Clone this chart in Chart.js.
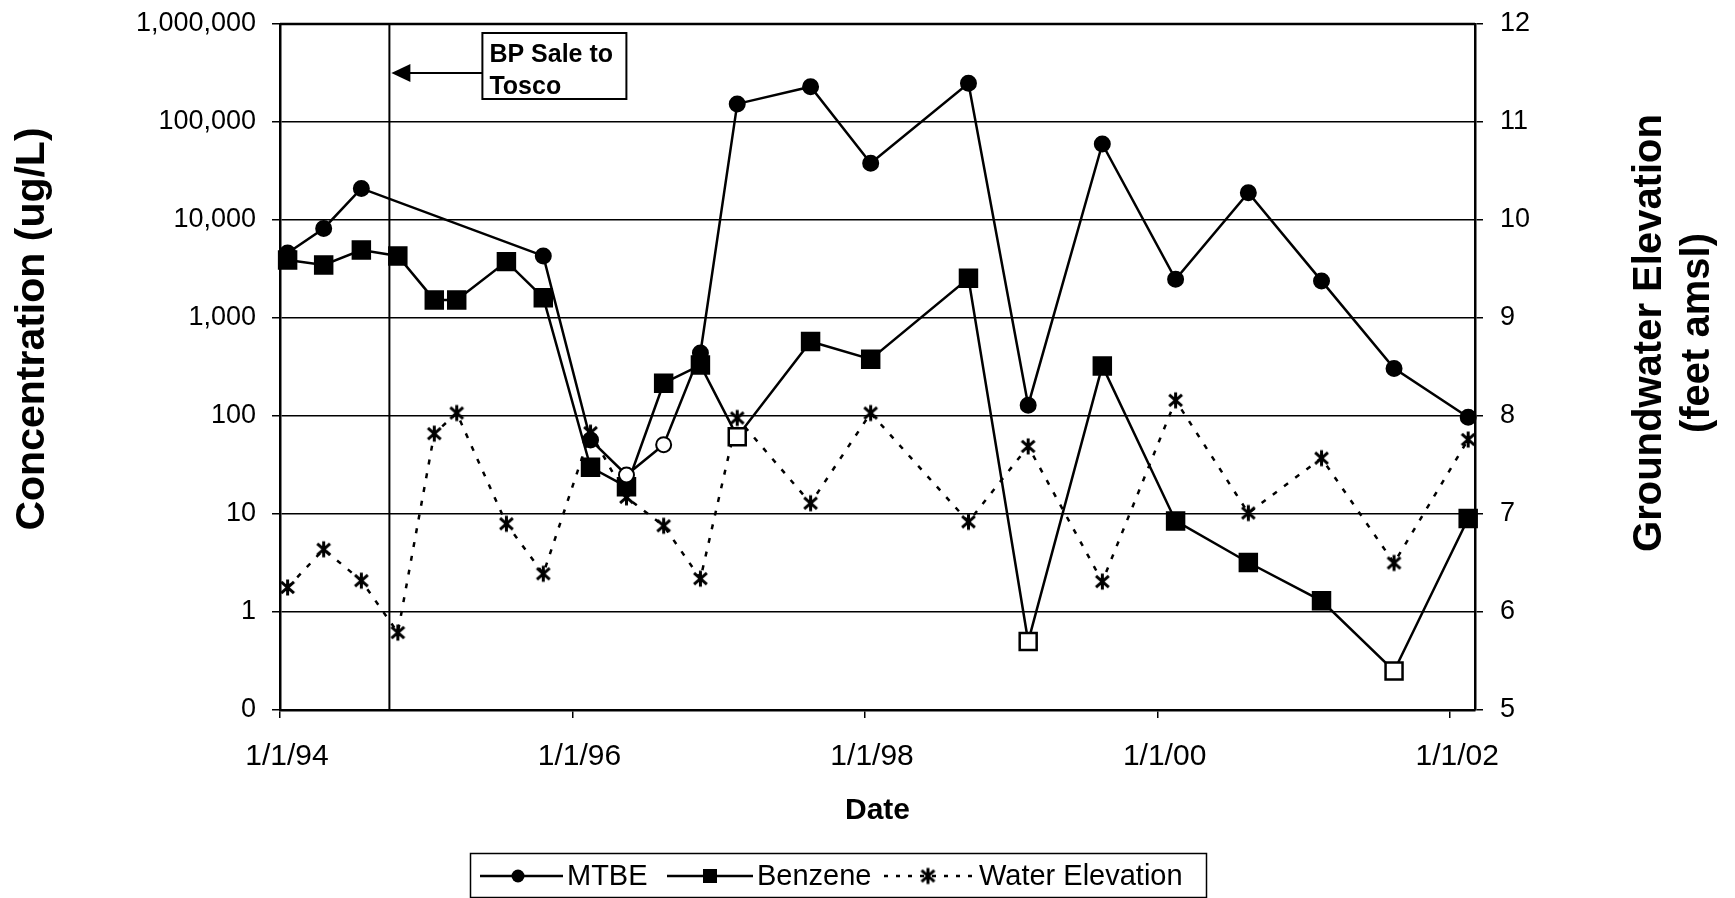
<!DOCTYPE html>
<html><head><meta charset="utf-8">
<script src="https://cdn.jsdelivr.net/npm/chart.js@4.4.1/dist/chart.umd.min.js"></script>
<style>html,body{margin:0;padding:0;background:#fff;}#wrap{width:1735px;height:898px;}</style>
</head><body><div id="wrap"><canvas id="c" width="1735" height="898"></canvas></div>
<script>
// ---- data ----
const sampleDates = ["1994-01-20","1994-04-20","1994-07-23","1994-10-22","1995-01-21","1995-03-18","1995-07-20","1995-10-20","1996-02-15","1996-05-15","1996-08-16","1996-11-16","1997-02-16","1997-08-18","1998-01-15","1998-09-16","1999-02-12","1999-08-16","2000-02-15","2000-08-15","2001-02-14","2001-08-14","2002-02-15"];
const mtbe      = [4600, 8200, 21000, null, null, null, null, 4300, 57, 25, 51, 440, 153000, 229000, 38000, 248000, 129, 59700, 2480, 19000, 2390, 306, 97];
const mtbeOpen  = [0,0,0,0,0,0,0,0,0,1,1,0,0,0,0,0,0,0,0,0,0,0,0];
const benzene   = [3900, 3480, 4940, 4290, 1530, 1530, 3760, 1610, 30, 19, 216, 331, 61.5, 575, 380, 2540, 0.5, 324, 8.5, 3.2, 1.3, 0.25, 9.0];
const benzeneOpen=[0,0,0,0,0,0,0,0,0,0,0,0,1,0,0,0,1,0,0,0,0,1,0];
const waterElev = [6.25, 6.64, 6.32, 5.79, 7.82, 8.03, 6.90, 6.39, 7.83, 7.17, 6.88, 6.34, 7.98, 7.11, 8.03, 6.92, 7.69, 6.31, 8.16, 7.01, 7.57, 6.50, 7.76];
const xRange = ["1994-01-01", "2002-03-04"];
const xTickDates = ["1994-01-01","1996-01-01","1998-01-01","2000-01-01","2002-01-01"];
const xTickLabels = ["1/1/94","1/1/96","1/1/98","1/1/00","1/1/02"];
const yTickValues = [0.1, 1, 10, 100, 1000, 10000, 100000, 1000000];
const yTickLabels = ["0","1","10","100","1,000","10,000","100,000","1,000,000"];
const y2TickValues = [5,6,7,8,9,10,11,12];
const y2TickLabels = ["5","6","7","8","9","10","11","12"];
const saleDate = "1994-10-01";
const saleText = ["BP Sale to","Tosco"];
const seriesNames = ["MTBE","Benzene","Water Elevation"];

// ---- helpers ----
function dyear(s){const [y,m,d]=s.split('-').map(Number);const t=Date.UTC(y,m-1,d),a=Date.UTC(y,0,1),b=Date.UTC(y+1,0,1);return y+(t-a)/(b-a);}
const FONT = "'Liberation Sans', Arial, sans-serif";
const xs = sampleDates.map(dyear);
function makeStar(size, lw){
  const c=document.createElement('canvas');c.width=c.height=size;
  const g=c.getContext('2d');g.strokeStyle='#000';g.lineWidth=lw;
  const m=size/2, r=size/2-1.5;
  g.beginPath();
  g.moveTo(m,m-r);g.lineTo(m,m+r);
  g.moveTo(m-r*0.8,m-r*0.7);g.lineTo(m+r*0.8,m+r*0.7);
  g.moveTo(m+r*0.8,m-r*0.7);g.lineTo(m-r*0.8,m+r*0.7);
  g.stroke();return c;
}
const star = makeStar(19, 3);

const overlay = {
  id:'overlay',
  beforeDatasetsDraw(chart){
    const {ctx, chartArea:a, scales} = chart;
    const bx = scales.x.getPixelForValue(dyear(saleDate));
    ctx.save();ctx.strokeStyle='#000';ctx.lineWidth=2;
    ctx.beginPath();ctx.moveTo(bx,a.top);ctx.lineTo(bx,a.bottom);ctx.stroke();
    ctx.restore();
  },
  afterDraw(chart){
    const {ctx, chartArea:a, scales} = chart;
    ctx.save();
    ctx.strokeStyle='#000';ctx.fillStyle='#000';
    // top frame line
    ctx.lineWidth=2.5;ctx.beginPath();ctx.moveTo(a.left,a.top);ctx.lineTo(a.right,a.top);ctx.stroke();
    // annotation
    const bx = scales.x.getPixelForValue(dyear(saleDate));
    const boxL = bx+93, boxT = a.top+9, boxW = 144, boxH = 66;
    ctx.fillStyle='#fff';ctx.fillRect(boxL,boxT,boxW,boxH);
    ctx.lineWidth=2;ctx.strokeRect(boxL,boxT,boxW,boxH);
    ctx.fillStyle='#000';ctx.font="bold 25px "+FONT;ctx.textAlign='left';ctx.textBaseline='alphabetic';
    ctx.fillText(saleText[0], boxL+7, boxT+29);
    ctx.fillText(saleText[1], boxL+7, boxT+61);
    const ay = boxT+40;
    ctx.lineWidth=2;ctx.beginPath();ctx.moveTo(boxL,ay);ctx.lineTo(bx+18,ay);ctx.stroke();
    ctx.beginPath();ctx.moveTo(bx+2,ay);ctx.lineTo(bx+21,ay-9);ctx.lineTo(bx+21,ay+9);ctx.closePath();ctx.fill();
    // axis titles
    ctx.textAlign='center';ctx.textBaseline='middle';
    ctx.font="bold 41px "+FONT;
    ctx.save();ctx.translate(32.5,329);ctx.rotate(-Math.PI/2);ctx.fillText("Concentration (ug/L)",0,0);ctx.restore();
    ctx.font="bold 40px "+FONT;
    ctx.save();ctx.translate(1674,333);ctx.rotate(-Math.PI/2);
    ctx.fillText("Groundwater Elevation",0,-24);ctx.fillText("(feet amsl)",0,24);ctx.restore();
    ctx.font="bold 30px "+FONT;
    ctx.fillText("Date",(a.left+a.right)/2,811);
    // legend
    const lx=470, ly=853, lw=736, lh=44, cy=ly+lh/2+1;
    ctx.lineWidth=1.5;ctx.strokeRect(lx+0.5,ly+0.5,lw,lh);
    ctx.font="29px "+FONT;ctx.textAlign='left';ctx.textBaseline='middle';
    // MTBE
    ctx.lineWidth=2.5;ctx.setLineDash([]);
    ctx.beginPath();ctx.moveTo(480,cy);ctx.lineTo(563,cy);ctx.stroke();
    ctx.beginPath();ctx.arc(518,cy,6.5,0,Math.PI*2);ctx.fill();
    ctx.fillText(seriesNames[0],567,cy+1);
    // Benzene
    ctx.beginPath();ctx.moveTo(667,cy);ctx.lineTo(753,cy);ctx.stroke();
    ctx.fillRect(710-7,cy-7,14,14);
    ctx.fillText(seriesNames[1],757,cy+1);
    // Water
    ctx.setLineDash([4,8]);ctx.beginPath();ctx.moveTo(884,cy);ctx.lineTo(975,cy);ctx.stroke();ctx.setLineDash([]);
    ctx.drawImage(star,928-star.width/2,cy-star.height/2);
    ctx.fillText(seriesNames[2],979,cy+1);
    ctx.restore();
  }
};

const ptsOf = arr => xs.map((x,i)=>({x, y: arr[i]}));
new Chart(document.getElementById('c'), {
  type:'line',
  data:{datasets:[
    {label:seriesNames[0], data:ptsOf(mtbe), yAxisID:'y', borderColor:'#000', borderWidth:2.5, spanGaps:true, clip:false,
     pointStyle:'circle', pointRadius:7.5, pointBorderWidth:2, pointBorderColor:'#000',
     pointBackgroundColor: mtbeOpen.map(o=>o?'#fff':'#000'), tension:0},
    {label:seriesNames[1], data:ptsOf(benzene), yAxisID:'y', borderColor:'#000', borderWidth:2.5, clip:false,
     pointStyle:'rect', pointRadius:12, pointBorderWidth:2.5, pointBorderColor:'#000',
     pointBackgroundColor: benzeneOpen.map(o=>o?'#fff':'#000'), tension:0},
    {label:seriesNames[2], data:ptsOf(waterElev), yAxisID:'y2', borderColor:'#000', borderWidth:2.5, borderDash:[5,9], clip:false,
     pointStyle:star, pointRadius:9, tension:0}
  ]},
  options:{
    responsive:false, animation:false, devicePixelRatio:1,
    layout:{padding:{top:24,left:0,right:0,bottom:0}},
    plugins:{legend:{display:false}, tooltip:{enabled:false}},
    scales:{
      x:{type:'linear', position:'bottom', min:dyear(xRange[0]), max:dyear(xRange[1]),
        afterBuildTicks:s=>{s.ticks=xTickDates.map(d=>({value:dyear(d)}));},
        ticks:{callback:(v,i)=>xTickLabels[i], font:{family:FONT,size:30}, color:'#000', padding:21, labelOffset:7, maxRotation:0, minRotation:0, autoSkip:false},
        grid:{drawOnChartArea:false, drawTicks:true, tickLength:8, color:'#000', lineWidth:1.5},
        border:{color:'#000', width:2.5},
        afterFit:s=>{s.height=188;}},
      y:{type:'logarithmic', position:'left', min:0.1, max:1000000,
        afterBuildTicks:s=>{s.ticks=yTickValues.map(v=>({value:v}));},
        ticks:{callback:(v,i)=>yTickLabels[i], font:{family:FONT,size:27,lineHeight:0.3}, color:'#000', padding:16, autoSkip:false},
        grid:{color:'#000', lineWidth:1.5, tickLength:8},
        border:{color:'#000', width:2.5},
        afterFit:s=>{s.width=280;}},
      y2:{type:'linear', position:'right', min:5, max:12,
        afterBuildTicks:s=>{s.ticks=y2TickValues.map(v=>({value:v}));},
        ticks:{callback:(v,i)=>y2TickLabels[i], font:{family:FONT,size:27,lineHeight:0.3}, color:'#000', padding:17, autoSkip:false},
        grid:{drawOnChartArea:false, tickLength:8, color:'#000', lineWidth:1.5},
        border:{color:'#000', width:2.5},
        afterFit:s=>{s.width=260;}}
    }
  },
  plugins:[overlay]
});
</script></body></html>
